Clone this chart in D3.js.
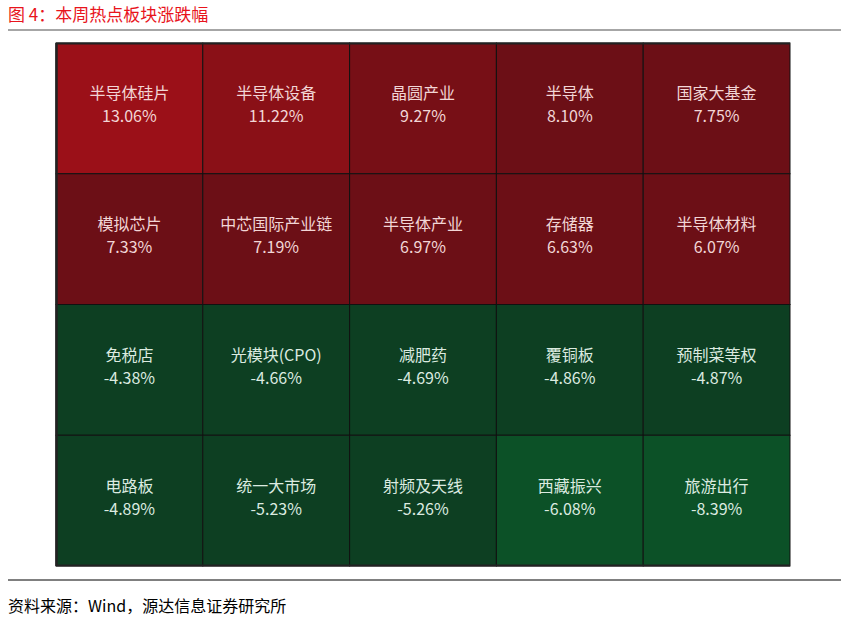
<!DOCTYPE html><html><head><meta charset="utf-8"><script src="https://d3js.org/d3.v7.min.js"></script>
<style>body{margin:0;background:#fff}text{font-family:"Noto Sans CJK SC","Noto Sans",sans-serif}</style></head><body>
<svg id="c" width="847" height="620"></svg>
<script>
const names=["半导体硅片","半导体设备","晶圆产业","半导体","国家大基金","模拟芯片","中芯国际产业链","半导体产业","存储器","半导体材料","免税店","光模块(CPO)","减肥药","覆铜板","预制菜等权","电路板","统一大市场","射频及天线","西藏振兴","旅游出行"];
const values=[13.06,11.22,9.27,8.10,7.75,7.33,7.19,6.97,6.63,6.07,-4.38,-4.66,-4.69,-4.86,-4.87,-4.89,-5.23,-5.26,-6.08,-8.39];
const svg=d3.select("#c");
svg.append("text").attr("x",8).attr("y",21).attr("fill","#e8141c").attr("font-size",17).text("图 4：本周热点板块涨跌幅");
svg.append("line").attr("x1",8).attr("x2",841).attr("y1",30).attr("y2",30).attr("stroke","#888").attr("stroke-width",1.5);
const x=d3.scaleBand().domain(d3.range(5)).range([56,790]);
const y=d3.scaleBand().domain(d3.range(4)).range([43,566]);
const red=d3.scaleLinear().domain([8.1,13.06]).range(["#6c0f16","#9b1018"]).clamp(true);
const green=d3.scaleLinear().domain([-5.3,-6.0]).range(["#0d3f22","#0c5127"]).clamp(true);
const g=svg.selectAll("g.cell").data(values).join("g").attr("class","cell")
 .attr("transform",(d,i)=>`translate(${x(i%5)},${y(Math.floor(i/5))})`);
g.append("rect").attr("width",x.bandwidth()).attr("height",y.bandwidth())
 .attr("fill",d=>d>0?red(d):green(d)).attr("stroke","#111").attr("stroke-width",1);
g.append("text").attr("x",x.bandwidth()/2).attr("y",y.bandwidth()/2-9).attr("text-anchor","middle")
 .attr("font-size",16).attr("fill",d=>d>0?"#f2d6d6":"#dcebe0").text((d,i)=>names[i]);
g.append("text").attr("x",x.bandwidth()/2).attr("y",y.bandwidth()/2+14).attr("text-anchor","middle")
 .attr("font-size",16).attr("fill",d=>d>0?"#f2d6d6":"#dcebe0").text(d=>d.toFixed(2)+"%");
svg.append("line").attr("x1",56).attr("x2",790).attr("y1",43.5).attr("y2",43.5).attr("stroke","#222").attr("stroke-width",2);
svg.append("line").attr("x1",56.5).attr("x2",56.5).attr("y1",43).attr("y2",566).attr("stroke","#222").attr("stroke-width",2.5);
svg.append("line").attr("x1",56).attr("x2",790).attr("y1",565.5).attr("y2",565.5).attr("stroke","#222").attr("stroke-width",2);
svg.append("line").attr("x1",8).attr("x2",841).attr("y1",580).attr("y2",580).attr("stroke","#000").attr("stroke-width",1);
svg.append("text").attr("x",8).attr("y",612).attr("fill","#000").attr("font-size",16).text("资料来源：Wind，源达信息证券研究所");
</script></body></html>
